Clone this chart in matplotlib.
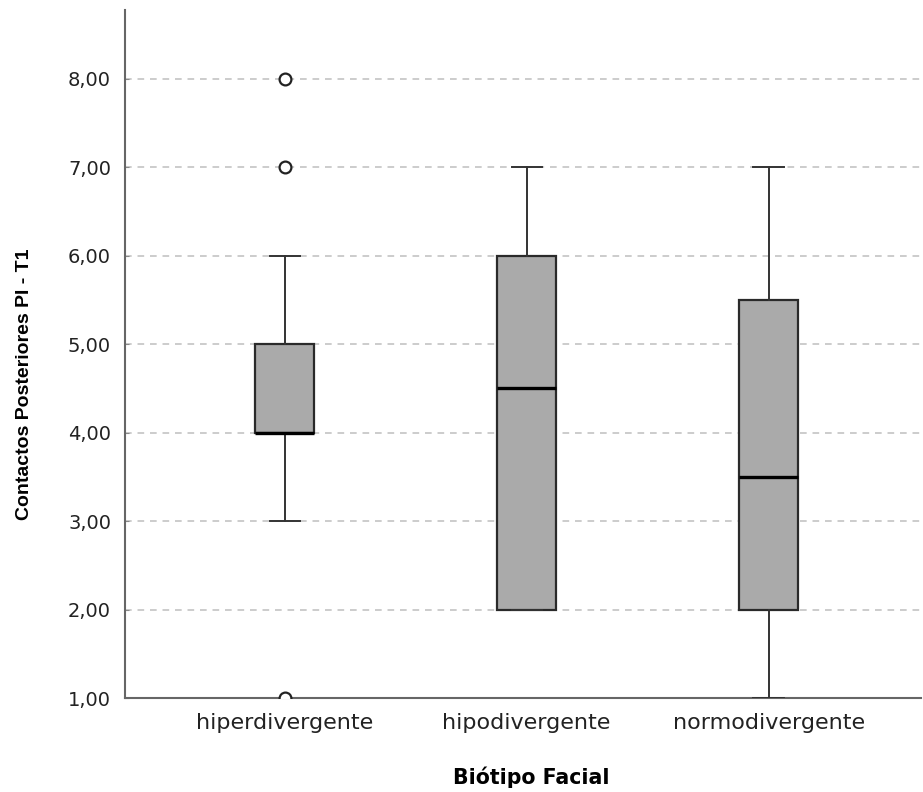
import matplotlib
matplotlib.use("Agg")
import matplotlib.pyplot as plt
from matplotlib import font_manager

categories = ["hiperdivergente", "hipodivergente", "normodivergente"]
q1 = [4.0, 2.0, 2.0]
medians = [4.0, 4.5, 3.5]
q3 = [5.0, 6.0, 5.5]
whisker_low = [3.0, 2.0, 1.0]
whisker_high = [6.0, 7.0, 7.0]
outliers = [[8.0, 7.0, 1.0], [], []]
yticks = [1, 2, 3, 4, 5, 6, 7, 8]
ytick_labels = ["1,00", "2,00", "3,00", "4,00", "5,00", "6,00", "7,00", "8,00"]

plt.rcParams['font.family'] = ['DejaVu Sans']

fig = plt.figure(figsize=(9.23, 7.92), dpi=100)
ax = fig.add_axes([125/923, (792-698)/792, (921-125)/923, (698-10)/792])

stats = []
for i, c in enumerate(categories):
    stats.append(dict(label=c, q1=q1[i], med=medians[i], q3=q3[i],
                      whislo=whisker_low[i], whishi=whisker_high[i],
                      fliers=outliers[i]))

ax.bxp(stats, positions=range(len(categories)), widths=0.245, patch_artist=True,
       boxprops=dict(facecolor="#aaaaaa", edgecolor="#2a2a2a", linewidth=1.6),
       medianprops=dict(color="black", linewidth=2.4),
       whiskerprops=dict(color="#333333", linewidth=1.4),
       capprops=dict(color="#333333", linewidth=1.4),
       capwidths=0.125,
       flierprops=dict(marker="o", markerfacecolor="white", markeredgecolor="#222222",
                       markersize=8.5, markeredgewidth=1.6),
       zorder=3)

for y in yticks[1:]:
    ax.axhline(y, color="#c4c4c4", linewidth=1.2, linestyle=(0, (4, 3.5)), zorder=1)

ax.set_xlim(-0.66, 2.63)
ax.set_ylim(1, 8.78)
ax.set_yticks(yticks)
ax.set_yticklabels(ytick_labels)
ax.set_xticks(range(len(categories)))
ax.set_xticklabels(categories)

for s in ["top", "right"]:
    ax.spines[s].set_visible(False)
for s in ["left", "bottom"]:
    ax.spines[s].set_color("#666666")
    ax.spines[s].set_linewidth(1.5)

ax.tick_params(axis="y", direction="in", length=3, color="#888888", labelsize=14, pad=10, labelcolor="#222222")
ax.tick_params(axis="x", length=0, labelsize=16, pad=10.5, labelcolor="#222222")

ax.set_xlabel("Biótipo Facial", fontsize=14.8, fontweight="bold")
ax.xaxis.set_label_coords((531-125)/796, (698-766)/688)

names = {f.name for f in font_manager.fontManager.ttflist}
if "Liberation Sans Narrow" in names:
    ax.set_ylabel("Contactos Posteriores PI - T1", fontsize=17, fontweight="bold",
                  family=["Liberation Sans Narrow"])
else:
    ax.set_ylabel("Contactos Posteriores PI - T1", fontsize=14, fontweight="bold",
                  family=["Liberation Sans"])
ax.yaxis.set_label_coords((33-125)/796, (698-384)/688)

fig.savefig("out.png", dpi=100)
